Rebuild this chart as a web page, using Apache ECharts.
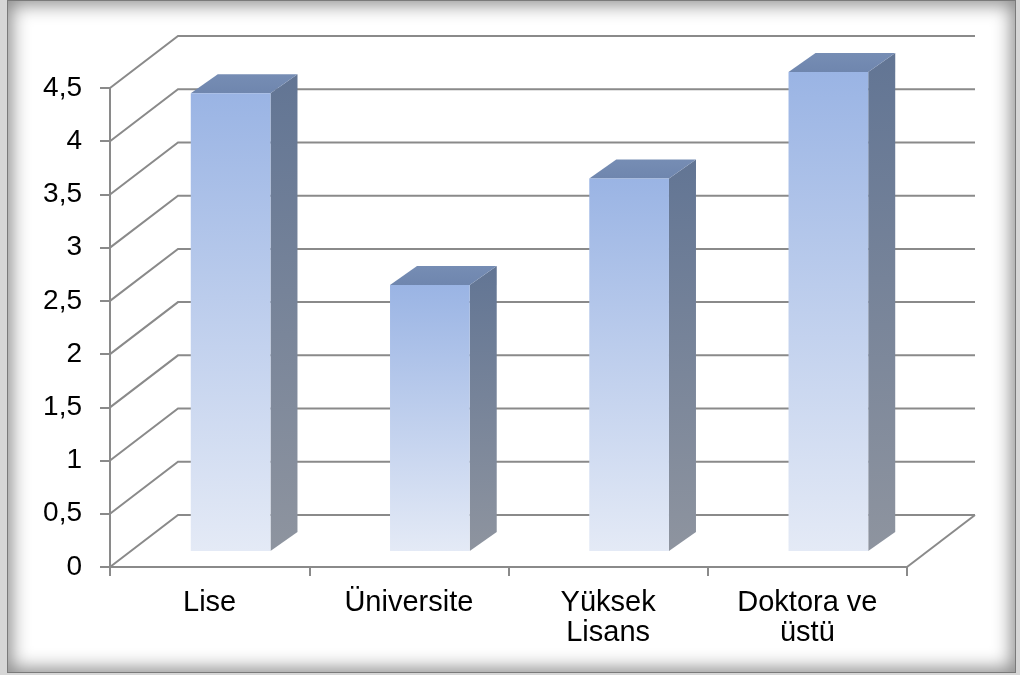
<!DOCTYPE html>
<html>
<head>
<meta charset="utf-8">
<title>Eğitim durumu</title>
<script src="https://cdn.jsdelivr.net/npm/echarts@6/dist/echarts.min.js"></script>
<style>
  html, body { margin: 0; padding: 0; background: #d6d6d6; }
  #frame {
    position: absolute; left: 7px; top: 0; width: 1007px; height: 671px;
    background: #ffffff; border: 1px solid #7a7a7a;
    box-shadow: inset 0 0 18px 4px rgba(0,0,0,0.45);
  }
  #chart { position: absolute; left: 0; top: 0; width: 1020px; height: 675px; }
</style>
</head>
<body>
<div id="frame"></div>
<div id="chart"></div>
<script>
// Education levels and their mean scores
const categories = ['Lise', 'Üniversite', 'Yüksek\nLisans', 'Doktora ve\nüstü'];
const scores = [4.3, 2.5, 3.5, 4.5];
// Value-axis ticks (also the rows of the back wall)
const yTicks = [0, 0.5, 1, 1.5, 2, 2.5, 3, 3.5, 4, 4.5];

// Oblique depth of the wall box and of the bars (pixels)
const WALL_DX = 68, WALL_DY = -52;
const BAR_FRONT_DX = 21, BAR_FRONT_DY = -16;
const BAR_BACK_DX = 48, BAR_BACK_DY = -35;
const GRID_COLOR = '#8a8a8a';

const chart = echarts.init(document.getElementById('chart'), null, { renderer: 'canvas' });

function renderWall(params, api) {
  const cs = params.coordSys;
  const v = api.value(0);
  const y = api.coord([0, v])[1];
  const x0 = cs.x, x1 = cs.x + cs.width;
  const children = [{
    type: 'polyline',
    shape: { points: [[x0, y], [x0 + WALL_DX, y + WALL_DY], [x1 + WALL_DX, y + WALL_DY]] },
    style: { stroke: GRID_COLOR, lineWidth: 2, fill: null }
  }];
  if (v === 0) {
    children.push({
      type: 'line',
      shape: { x1: x1, y1: y, x2: x1 + WALL_DX, y2: y + WALL_DY },
      style: { stroke: GRID_COLOR, lineWidth: 2 }
    });
  }
  return { type: 'group', children: children };
}

function renderBar(params, api) {
  const idx = api.value(0);
  const val = api.value(1);
  const top = api.coord([idx, val]);
  const base = api.coord([idx, 0]);
  const band = api.size([1, 0])[0];
  const w = band * 0.4;
  const xl = top[0] - w / 2, xr = top[0] + w / 2;
  const yt = top[1], yb = base[1];

  const front = [
    [xl + BAR_FRONT_DX, yt + BAR_FRONT_DY], [xr + BAR_FRONT_DX, yt + BAR_FRONT_DY],
    [xr + BAR_FRONT_DX, yb + BAR_FRONT_DY], [xl + BAR_FRONT_DX, yb + BAR_FRONT_DY]
  ];
  const topFace = [
    [xl + BAR_FRONT_DX, yt + BAR_FRONT_DY], [xl + BAR_BACK_DX, yt + BAR_BACK_DY],
    [xr + BAR_BACK_DX, yt + BAR_BACK_DY], [xr + BAR_FRONT_DX, yt + BAR_FRONT_DY]
  ];
  const side = [
    [xr + BAR_FRONT_DX, yt + BAR_FRONT_DY], [xr + BAR_BACK_DX, yt + BAR_BACK_DY],
    [xr + BAR_BACK_DX, yb + BAR_BACK_DY], [xr + BAR_FRONT_DX, yb + BAR_FRONT_DY]
  ];
  return {
    type: 'group',
    children: [
      { type: 'polygon', shape: { points: side },
        style: { fill: new echarts.graphic.LinearGradient(0, 0, 0, 1, [
          { offset: 0, color: '#627594' }, { offset: 1, color: '#8e949f' }]) } },
      { type: 'polygon', shape: { points: topFace },
        style: { fill: new echarts.graphic.LinearGradient(0, 1, 0, 0, [
          { offset: 0, color: '#6f86ae' }, { offset: 1, color: '#768db4' }]) } },
      { type: 'polygon', shape: { points: front },
        style: { fill: new echarts.graphic.LinearGradient(0, 0, 0, 1, [
          { offset: 0, color: '#9ab4e4' }, { offset: 1, color: '#e4eaf6' }]) } }
    ]
  };
}

chart.setOption({
  animation: false,
  backgroundColor: 'transparent',
  grid: { left: 110, right: 113, top: 88, bottom: 108 },
  xAxis: {
    type: 'category',
    data: categories,
    axisLine: { lineStyle: { color: GRID_COLOR, width: 2 } },
    axisTick: { show: true, length: 9, interval: 0, lineStyle: { color: GRID_COLOR, width: 2 } },
    axisLabel: {
      interval: 0, color: '#000', fontSize: 29, lineHeight: 30, margin: 21,
      fontFamily: 'Liberation Sans, Arial, sans-serif'
    },
    splitLine: { show: false }
  },
  yAxis: {
    type: 'value',
    min: 0, max: 4.5, interval: 0.5,
    axisLine: { show: true, lineStyle: { color: GRID_COLOR, width: 2 } },
    axisTick: { show: true, length: 10, lineStyle: { color: GRID_COLOR, width: 2 } },
    axisLabel: {
      color: '#000', fontSize: 28, margin: 28,
      fontFamily: 'Liberation Sans, Arial, sans-serif',
      formatter: v => String(v).replace('.', ',')
    },
    splitLine: { show: false }
  },
  series: [
    {
      type: 'custom',
      name: 'walls',
      renderItem: renderWall,
      data: yTicks.map(v => [v]),
      encode: { y: 0 },
      silent: true,
      z: 1
    },
    {
      type: 'custom',
      name: 'Ortalama',
      renderItem: renderBar,
      data: scores.map((v, i) => [i, v]),
      encode: { x: 0, y: 1 },
      z: 3
    }
  ]
});
</script>
</body>
</html>
